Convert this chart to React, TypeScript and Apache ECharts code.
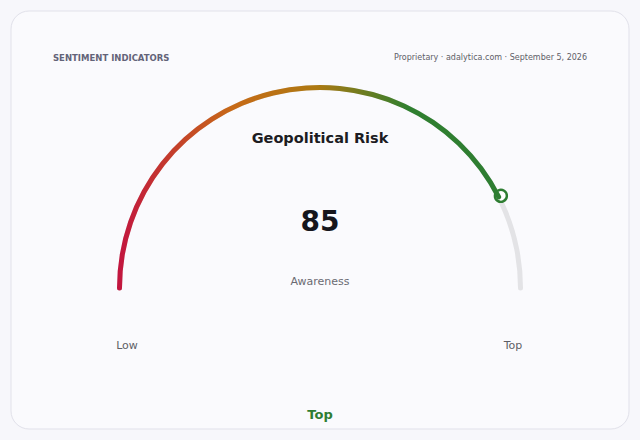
import { useEffect, useRef } from 'react';
import * as echarts from 'echarts';

/* ───── Data ───── */
const headerLeft = 'SENTIMENT INDICATORS';
const headerRight = 'Proprietary · adalytica.com · September 5, 2026';
const gaugeTitle = 'Geopolitical Risk';
const gaugeNames = ['Awareness'];
const gaugeValues = [85];
const scaleMin = 0;
const scaleMax = 100;
const endLabels = ['Low', 'Top'];
const levelLabel = 'Top';

const FONT = 'DejaVu Sans';
const GREEN = '#2e7d32';

export default function App() {
  const ref = useRef<HTMLDivElement>(null);

  useEffect(() => {
    if (!ref.current) return;
    const chart = echarts.init(ref.current, null, { renderer: 'svg' });
    const cx = 320, cy = 288, r = 203;
    chart.setOption({
      animation: false,
      backgroundColor: '#f7f7fb',
      title: {
        text: gaugeTitle, left: 'center', top: 125,
        textStyle: { fontFamily: FONT, fontSize: 14.5, fontWeight: 'bold', color: '#1c1c22' },
      },
      graphic: [
        { type: 'rect', z: -10, shape: { x: 11, y: 11, width: 618, height: 418, r: 18 }, style: { fill: '#fafafd', stroke: '#e1e1ea', lineWidth: 1 } },
        { type: 'text', x: 53, y: 57.5, style: { text: headerLeft, fontFamily: FONT, fontSize: 8.5, fontWeight: 'bold', fill: '#636378', textVerticalAlign: 'middle' } },
        { type: 'text', x: 587, y: 57.5, style: { text: headerRight, fontFamily: FONT, fontSize: 8, fill: '#5e5e68', textAlign: 'right', textVerticalAlign: 'middle' } },
        { type: 'text', x: 127, y: 345, style: { text: endLabels[0], fontFamily: FONT, fontSize: 11, fill: '#5e5e66', textAlign: 'center', textVerticalAlign: 'middle' } },
        { type: 'text', x: 513, y: 345, style: { text: endLabels[1], fontFamily: FONT, fontSize: 11, fill: '#5e5e66', textAlign: 'center', textVerticalAlign: 'middle' } },
        { type: 'text', x: 320, y: 414, style: { text: levelLabel, fontFamily: FONT, fontSize: 13, fontWeight: 'bold', fill: GREEN, textAlign: 'center', textVerticalAlign: 'middle' } },
      ],
      series: [{
        type: 'gauge',
        center: [cx, cy],
        radius: r,
        startAngle: 180,
        endAngle: 0,
        min: scaleMin,
        max: scaleMax,
        axisLine: { roundCap: true, lineStyle: { width: 5, color: [[1, '#e3e3e6']] } },
        progress: {
          show: true, width: 5, roundCap: true,
          itemStyle: {
            color: new echarts.graphic.LinearGradient(0, 0, 1, 0, [
              { offset: 0, color: '#c2143f' },
              { offset: 0.3, color: '#c76a17' },
              { offset: 0.52, color: '#ad7912' },
              { offset: 0.76, color: '#2f7f2f' },
              { offset: 1, color: GREEN },
            ]),
          },
        },
        pointer: {
          show: true, icon: 'circle', width: 12, length: 12,
          offsetCenter: [0, -(r - 6)],
          itemStyle: { color: '#ffffff', borderColor: GREEN, borderWidth: 2.4 },
        },
        anchor: { show: false },
        axisTick: { show: false },
        splitLine: { show: false },
        axisLabel: { show: false },
        title: { offsetCenter: [0, -7], fontFamily: FONT, fontSize: 11, color: '#6a6a72' },
        detail: {
          offsetCenter: [0, -67], fontFamily: FONT, fontSize: 28, fontWeight: 'bold', color: '#16161c',
          formatter: (v: number) => `${v}`,
        },
        data: gaugeValues.map((v, i) => ({ value: v, name: gaugeNames[i] })),
      }],
    });
    return () => { chart.dispose(); };
  }, []);

  return <div ref={ref} style={{ position: 'absolute', left: 0, top: 0, width: 640, height: 440 }} />;
}
